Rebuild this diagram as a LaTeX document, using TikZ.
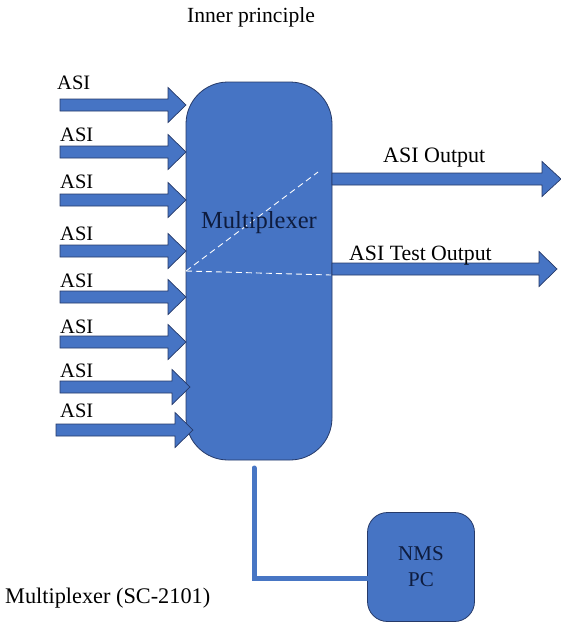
\documentclass[tikz,border=0pt]{standalone}
\usepackage{fontspec}
\setmainfont{Liberation Serif}
\definecolor{boxblue}{RGB}{70,116,196}
\definecolor{edgeblue}{RGB}{38,58,105}
\definecolor{linkblue}{RGB}{72,118,196}
\definecolor{navytext}{RGB}{14,28,62}
\newcommand\asiarrow[5][]{%
  \draw[blockarrow,#1] (#2,#5-6) -- (#3,#5-6) -- (#3,#5-17.5) -- (#4,#5) -- (#3,#5+17.5) -- (#3,#5+6) -- (#2,#5+6) -- cycle;}
\begin{document}
\begin{tikzpicture}[x=1pt,y=-1pt,
  blockarrow/.style={fill=boxblue,draw=edgeblue,line width=0.7pt,line join=miter},
  muxbox/.style={fill=boxblue,draw=edgeblue,line width=0.8pt,rounded corners=42pt,minimum width=146pt,minimum height=378pt,inner sep=0pt},
  pcbox/.style={fill=boxblue,draw=edgeblue,line width=0.8pt,rounded corners=20pt,minimum width=107pt,minimum height=109pt,inner sep=0pt,align=center,text=navytext,font=\fontsize{21}{26}\selectfont},
  lbl/.style={inner sep=0pt,anchor=base west,font=\fontsize{20.5}{24}\selectfont},
  link/.style={draw=linkblue,line width=5pt,line cap=round,line join=miter},
  route/.style={draw=white,dashed,line width=0.9pt,dash pattern=on 6pt off 4pt}]
\useasboundingbox (0,0) rectangle (561,626);
\fill[white] (0,0) rectangle (561,626);

% title
\node[lbl,font=\fontsize{21.6}{24}\selectfont] (title) at (187,23) {Inner principle};

% main multiplexer box
\node[muxbox] (mux) at (259,271) {};
\draw[route] (186,271) -- (318,172);
\draw[route] (186,271) -- (331,275);
\node[lbl,text=navytext,font=\fontsize{24.5}{28}\selectfont] (muxlabel) at (201,228) {Multiplexer};

% input arrows
\asiarrow{60}{168}{186}{105}
\asiarrow{60}{168}{186}{152}
\asiarrow{60}{168}{186}{200}
\asiarrow{60}{168}{186}{251}
\asiarrow{60}{168}{186}{297}
\asiarrow{60}{168}{186}{342}
\asiarrow{60}{172}{190}{387}
\asiarrow{56}{175}{193}{430}

\node[lbl] (in1) at (57,89) {ASI};
\node[lbl] (in2) at (60,141) {ASI};
\node[lbl] (in3) at (60,188) {ASI};
\node[lbl] (in4) at (60,240) {ASI};
\node[lbl] (in5) at (60,287) {ASI};
\node[lbl] (in6) at (60,333) {ASI};
\node[lbl] (in7) at (60,377) {ASI};
\node[lbl] (in8) at (60,417) {ASI};

% output arrows
\asiarrow{332}{542}{561}{179}
\asiarrow{332}{539}{557}{269}
\node[lbl,font=\fontsize{22}{24}\selectfont] (out1) at (383,162) {ASI Output};
\node[lbl,font=\fontsize{21.8}{24}\selectfont] (out2) at (349,260) {ASI Test Output};

% NMS PC
\node[pcbox] (pc) at (421,567) {NMS\\PC};
\coordinate (linktop) at (254,468);
\coordinate (bend) at (254,578);
\draw[link] (linktop) -- (bend) -- (pc.west |- bend);

\node[lbl,font=\fontsize{22.3}{24}\selectfont] (caption) at (5,603) {Multiplexer (SC-2101)};
\end{tikzpicture}
\end{document}
